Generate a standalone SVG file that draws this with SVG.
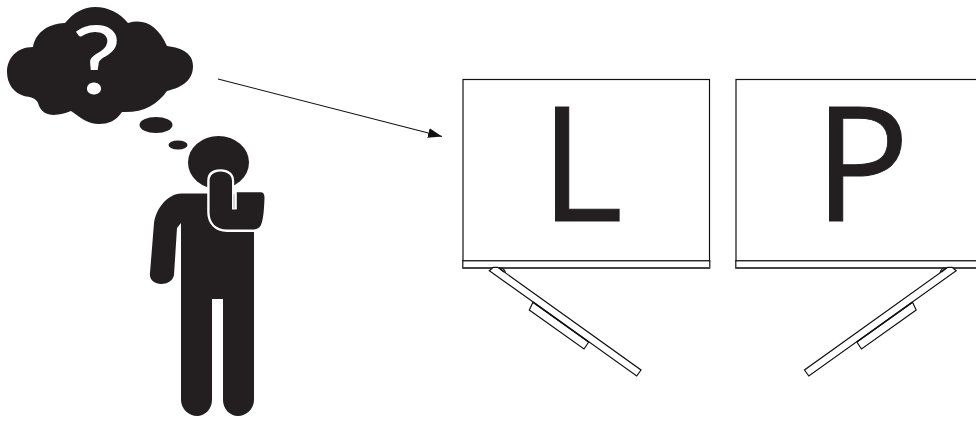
<svg xmlns="http://www.w3.org/2000/svg" width="976" height="424" viewBox="0 0 976 424">
<style>
.k{fill:#231f20}
.ln{fill:#fff;stroke:#111;stroke-width:1.2}
.edge{fill:none;stroke:#444;stroke-width:1.800}
.big{font-family:"Open Sans","Liberation Sans",sans-serif;font-size:159px;fill:#231f20;stroke:#231f20;stroke-width:1}
</style>
<defs>
<marker id="ah" markerUnits="userSpaceOnUse" markerWidth="16" markerHeight="12" refX="14" refY="5" orient="auto"><path d="M0 0L14 5L0 10Z" fill="#111"/></marker>
<g id="stand">
<path class="ln" d="M501.500 267.500C505 270 506 272 505 274.500"/>
<path class="ln" d="M533 302.200L529.300 310L584 349L588.700 342Z"/>
<path class="ln" d="M489.300 270.700L493.300 267.300L497.700 267.300L641 370L636.700 376Z"/>
<path d="M499 267.500L504 272M533 302.200L588.700 342" fill="none" stroke="#111" stroke-width="1.500"/>
</g>
</defs>
<rect width="976" height="424" fill="#fff"/>
<g id="thought-cloud">
<path class="k" d="M7 72C7 58 17 47 33 47C35 35 45 24 65 23C74 12 84 7 95 7C108 7 120 13 128 23C145 18 158 26 167 46C183 48 193 54 193 66C193 80 183 87 167 91C157 105 143 113 122 112C116 121 108 124 99 124C88 124 81 118 71 111C60 115 43 120 38 103C36 98 30 97 24 96C14 93 7 84 7 72Z"/>
<text transform="translate(96.500 94) scale(1.180 1)" text-anchor="middle" style="font-family:Lato,'Open Sans',sans-serif;font-size:95px;fill:#fff">?</text>
<ellipse class="k" cx="156" cy="125" rx="16.500" ry="8"/>
<ellipse class="k" cx="178" cy="145" rx="9.500" ry="4.500"/>
</g>
<g id="person">
<ellipse class="k" cx="218.500" cy="162.500" rx="30.500" ry="26.500"/>
<path class="k" d="M181 193.500L212 193.500L254 193.500L254 400C254 409 246 416 238 416C230 416 223 409 223 400L223 299L212 299L212 400C212 409 205 416 197 416C189 416 181 409 181 400L181 223L177 228L174 275C173 281 167 284 161 284C155 284 149 280 150 273L154 223C156 208 168 194 181 193.500Z"/>
<path d="M232 186H254V192.300H232Z" fill="#fff"/>
<path d="M254.500 230.800H227C215.500 230.800 208.400 223 208.400 212V181C208.400 174 213 170.400 220.500 170.400C228 170.400 233 174 233 181V209.300H236.500V192" fill="#fff" stroke="#fff" stroke-width="2.400"/>
<path class="k" d="M209.600 181C209.600 175 214 171.600 220.500 171.600C227 171.600 232 175 232 181V209.300H236.500V192.300H260C263.500 192.300 264.500 194 264.500 198C264 212 263 220 261 225C259 229 256 229.500 252 229.500H227C216 229.500 209.600 223 209.600 212Z"/>
<path d="M232 192.300H236.600V209.300H232Z" fill="#fff"/>
<path d="M234 194V208.500" stroke="#999" stroke-width=".8"/>
</g>
<g id="connectors">
<path d="M218 79L442 136.500" stroke="#111" stroke-width="1.100" fill="none" marker-end="url(#ah)"/>
</g>
<g id="screen-l">
<rect class="ln" x="463" y="79.500" width="246.500" height="181.500"/>
<rect class="ln" x="462.800" y="260.800" width="247" height="7.200"/>
<path class="edge" d="M462.500 268H710"/>
<use href="#stand"/>
<text class="big" x="540" y="220.500">L</text>
</g>
<g id="screen-p">
<rect class="ln" x="736" y="79.500" width="250" height="181.500"/>
<rect class="ln" x="735.800" y="260.800" width="250" height="7.200"/>
<path class="edge" d="M735.500 268H976"/>
<use href="#stand" transform="translate(1445.500 0) scale(-1 1)"/>
<text class="big" x="814" y="220.500">P</text>
</g>
</svg>
